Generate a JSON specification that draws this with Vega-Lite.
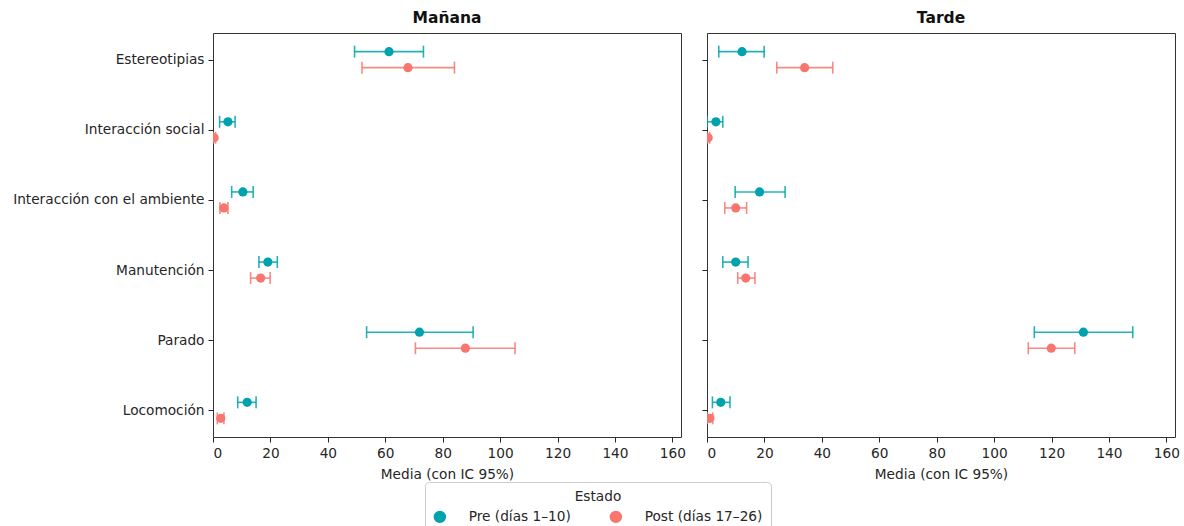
{
  "$schema": "https://vega.github.io/schema/vega-lite/v6.json",
  "background": "white",
  "padding": {"left": 12, "top": 10, "right": 5, "bottom": 0},
  "datasets": {
    "d": [
      {"turno": "Mañana", "conducta": "Estereotipias", "estado": "Pre (días 1–10)", "media": 61.3, "lo": 49.3, "hi": 73.3},
      {"turno": "Mañana", "conducta": "Estereotipias", "estado": "Post (días 17–26)", "media": 67.9, "lo": 51.9, "hi": 84.1},
      {"turno": "Mañana", "conducta": "Interacción social", "estado": "Pre (días 1–10)", "media": 5.2, "lo": 2.3, "hi": 7.7},
      {"turno": "Mañana", "conducta": "Interacción social", "estado": "Post (días 17–26)", "media": 0.4, "lo": 0.0, "hi": 0.9},
      {"turno": "Mañana", "conducta": "Interacción con el ambiente", "estado": "Pre (días 1–10)", "media": 10.4, "lo": 6.5, "hi": 14.0},
      {"turno": "Mañana", "conducta": "Interacción con el ambiente", "estado": "Post (días 17–26)", "media": 3.8, "lo": 2.4, "hi": 5.2},
      {"turno": "Mañana", "conducta": "Manutención", "estado": "Pre (días 1–10)", "media": 19.1, "lo": 16.0, "hi": 22.4},
      {"turno": "Mañana", "conducta": "Manutención", "estado": "Post (días 17–26)", "media": 16.6, "lo": 13.1, "hi": 19.9},
      {"turno": "Mañana", "conducta": "Parado", "estado": "Pre (días 1–10)", "media": 71.9, "lo": 53.5, "hi": 90.6},
      {"turno": "Mañana", "conducta": "Parado", "estado": "Post (días 17–26)", "media": 87.9, "lo": 70.5, "hi": 105.2},
      {"turno": "Mañana", "conducta": "Locomoción", "estado": "Pre (días 1–10)", "media": 11.9, "lo": 8.6, "hi": 15.0},
      {"turno": "Mañana", "conducta": "Locomoción", "estado": "Post (días 17–26)", "media": 2.7, "lo": 1.5, "hi": 3.8},
      {"turno": "Tarde", "conducta": "Estereotipias", "estado": "Pre (días 1–10)", "media": 12.2, "lo": 4.1, "hi": 19.9},
      {"turno": "Tarde", "conducta": "Estereotipias", "estado": "Post (días 17–26)", "media": 34.0, "lo": 24.3, "hi": 43.8},
      {"turno": "Tarde", "conducta": "Interacción social", "estado": "Pre (días 1–10)", "media": 3.1, "lo": 0.1, "hi": 5.5},
      {"turno": "Tarde", "conducta": "Interacción social", "estado": "Post (días 17–26)", "media": 0.4, "lo": 0.0, "hi": 0.9},
      {"turno": "Tarde", "conducta": "Interacción con el ambiente", "estado": "Pre (días 1–10)", "media": 18.3, "lo": 9.8, "hi": 27.2},
      {"turno": "Tarde", "conducta": "Interacción con el ambiente", "estado": "Post (días 17–26)", "media": 10.0, "lo": 6.2, "hi": 13.8},
      {"turno": "Tarde", "conducta": "Manutención", "estado": "Pre (días 1–10)", "media": 10.0, "lo": 5.5, "hi": 14.3},
      {"turno": "Tarde", "conducta": "Manutención", "estado": "Post (días 17–26)", "media": 13.5, "lo": 10.7, "hi": 16.7},
      {"turno": "Tarde", "conducta": "Parado", "estado": "Pre (días 1–10)", "media": 131.1, "lo": 114.0, "hi": 148.3},
      {"turno": "Tarde", "conducta": "Parado", "estado": "Post (días 17–26)", "media": 119.9, "lo": 111.9, "hi": 128.1},
      {"turno": "Tarde", "conducta": "Locomoción", "estado": "Pre (días 1–10)", "media": 4.8, "lo": 1.9, "hi": 8.0},
      {"turno": "Tarde", "conducta": "Locomoción", "estado": "Post (días 17–26)", "media": 1.0, "lo": 0.1, "hi": 2.0}
    ]
  },
  "data": {"name": "d"},
  "spacing": 15,
  "resolve": {"scale": {"color": "shared"}, "legend": {"color": "shared"}},
  "hconcat": [
    {
      "title": {"text": "Mañana"},
      "width": 468,
      "height": 404,
      "transform": [{"filter": "datum.turno === 'Mañana'"}],
      "encoding": {
        "y": {"field": "conducta", "type": "nominal", "sort": ["Estereotipias", "Interacción social", "Interacción con el ambiente", "Manutención", "Parado", "Locomoción"], "scale": {"type": "point", "padding": 0.38}, "axis": {"title": null}},
        "yOffset": {"field": "estado", "type": "nominal", "sort": ["Pre (días 1–10)", "Post (días 17–26)"], "scale": {"type": "point", "range": [-8, 8], "padding": 0}},
        "color": {"field": "estado", "type": "nominal", "scale": {"domain": ["Pre (días 1–10)", "Post (días 17–26)"], "range": ["#00A3AD", "#F8766D"]},
          "legend": {"title": "Estado", "orient": "none", "legendX": 212, "legendY": 449, "direction": "horizontal", "symbolType": "circle", "symbolStrokeColor": "#222222", "symbolStrokeWidth": 1.5,
            "encode": {"symbols": {"update": {"stroke": {"value": "#222222"}, "strokeWidth": {"value": 1.5}, "opacity": {"value": 1}}}}}}
      },
      "layer": [
        {"mark": {"type": "rule", "strokeWidth": 1.6, "opacity": 0.85, "clip": true},
         "encoding": {"x": {"field": "lo", "type": "quantitative", "scale": {"domain": [0, 163], "nice": false, "zero": false}, "axis": {"values": [0, 20, 40, 60, 80, 100, 120, 140, 160], "title": "Media (con IC 95%)"}}, "x2": {"field": "hi"}}},
        {"mark": {"type": "tick", "thickness": 1.6, "size": 12, "opacity": 0.85, "clip": true},
         "encoding": {"x": {"field": "lo", "type": "quantitative"}}},
        {"mark": {"type": "tick", "thickness": 1.6, "size": 12, "opacity": 0.85, "clip": true},
         "encoding": {"x": {"field": "hi", "type": "quantitative"}}},
        {"mark": {"type": "point", "filled": true, "size": 85, "opacity": 1, "stroke": "#222222", "strokeWidth": 0, "clip": true},
         "encoding": {"x": {"field": "media", "type": "quantitative"}}}
      ]
    },
    {
      "title": {"text": "Tarde"},
      "width": 468,
      "height": 404,
      "transform": [{"filter": "datum.turno === 'Tarde'"}],
      "encoding": {
        "y": {"field": "conducta", "type": "nominal", "sort": ["Estereotipias", "Interacción social", "Interacción con el ambiente", "Manutención", "Parado", "Locomoción"], "scale": {"type": "point", "padding": 0.38}, "axis": {"title": null, "labels": false}},
        "yOffset": {"field": "estado", "type": "nominal", "sort": ["Pre (días 1–10)", "Post (días 17–26)"], "scale": {"type": "point", "range": [-8, 8], "padding": 0}},
        "color": {"field": "estado", "type": "nominal",
          "legend": {"title": "Estado", "orient": "none", "legendX": 212, "legendY": 449, "direction": "horizontal", "symbolType": "circle", "symbolStrokeColor": "#222222", "symbolStrokeWidth": 1.5,
            "encode": {"symbols": {"update": {"stroke": {"value": "#222222"}, "strokeWidth": {"value": 1.5}, "opacity": {"value": 1}}}}}}
      },
      "layer": [
        {"mark": {"type": "rule", "strokeWidth": 1.6, "opacity": 0.85, "clip": true},
         "encoding": {"x": {"field": "lo", "type": "quantitative", "scale": {"domain": [0, 163], "nice": false, "zero": false}, "axis": {"values": [0, 20, 40, 60, 80, 100, 120, 140, 160], "title": "Media (con IC 95%)"}}, "x2": {"field": "hi"}}},
        {"mark": {"type": "tick", "thickness": 1.6, "size": 12, "opacity": 0.85, "clip": true},
         "encoding": {"x": {"field": "lo", "type": "quantitative"}}},
        {"mark": {"type": "tick", "thickness": 1.6, "size": 12, "opacity": 0.85, "clip": true},
         "encoding": {"x": {"field": "hi", "type": "quantitative"}}},
        {"mark": {"type": "point", "filled": true, "size": 85, "opacity": 1, "stroke": "#222222", "strokeWidth": 0, "clip": true},
         "encoding": {"x": {"field": "media", "type": "quantitative"}}}
      ]
    }
  ],
  "config": {
    "font": "DejaVu Sans",
    "view": {"stroke": "#333333", "strokeWidth": 1},
    "title": {"font": "DejaVu Sans", "fontSize": 15.5, "fontWeight": "bold", "color": "#111111", "anchor": "middle", "offset": 7},
    "axis": {"labelFont": "DejaVu Sans", "labelFontSize": 13.7, "labelColor": "#262626", "labelLimit": 0, "tickColor": "#262626", "tickSize": 5, "domain": false, "grid": false, "titleFont": "DejaVu Sans", "titleFontSize": 13.7, "titleFontWeight": "normal", "titleColor": "#262626", "labelPadding": 4, "titlePadding": 8},
    "legend": {"titleAnchor": "middle", "symbolSize": 120, "symbolOpacity": 1, "symbolStrokeColor": "#222222", "symbolStrokeWidth": 1.5, "strokeColor": "#cccccc", "fillColor": "white", "cornerRadius": 4, "padding": 8, "columnPadding": 36, "labelOffset": 22, "labelFontSize": 13.7, "titleFontSize": 13.7, "titleFontWeight": "normal", "titlePadding": 6, "labelFont": "DejaVu Sans", "titleFont": "DejaVu Sans", "labelColor": "#262626", "titleColor": "#262626"}
  }
}
